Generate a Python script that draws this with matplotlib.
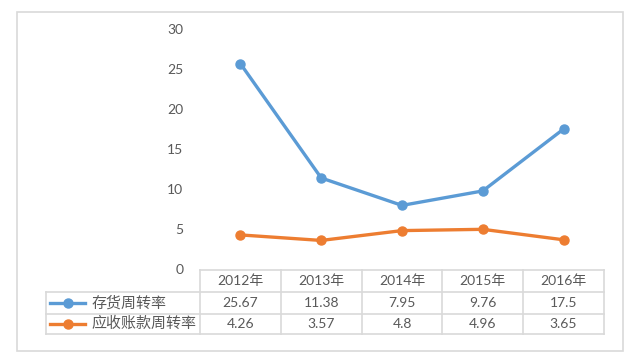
import numpy as np
import matplotlib.pyplot as plt
import matplotlib.transforms as mtransforms
from matplotlib.lines import Line2D
from matplotlib.patches import Rectangle

years = ['2012年', '2013年', '2014年', '2015年', '2016年']
series_names = ['存货周转率', '应收账款周转率']
inventory_turnover = [25.67, 11.38, 7.95, 9.76, 17.5]
receivable_turnover = [4.26, 3.57, 4.8, 4.96, 3.65]
cell_labels = [['25.67', '11.38', '7.95', '9.76', '17.5'],
               ['4.26', '3.57', '4.8', '4.96', '3.65']]
colors = ['#5B9BD5', '#ED7D31']

plt.rcParams['font.family'] = ['Lato', 'Noto Sans CJK SC', 'DejaVu Sans']
text_col = '#595959'
grid_col = '#D9D9D9'

W, H = 644, 364
fig = plt.figure(figsize=(W / 100, H / 100), dpi=100)

# outer chart border
fig.patches.append(Rectangle((17 / W, 1 - 351 / H), 606 / W, 339 / H,
                             transform=fig.transFigure, fill=False,
                             edgecolor=grid_col, linewidth=1.2))

ax = fig.add_axes([200 / W, 1 - 269 / H, 404 / W, 240 / H])
x = np.arange(len(years))
for vals, c in zip([inventory_turnover, receivable_turnover], colors):
    ax.plot(x, vals, color=c, linewidth=2.4, marker='o', markersize=6.5,
            solid_capstyle='round')

ax.set_xlim(-0.5, 4.5)
ax.set_ylim(0, 30)
ax.set_yticks(range(0, 31, 5))
ax.set_xticks([])
for s in ax.spines.values():
    s.set_visible(False)
ax.tick_params(axis='y', length=0, pad=12, labelsize=10, labelcolor=text_col)

# data table below the plot (x in data units, y in axes fraction)
tr = mtransforms.blended_transform_factory(ax.transData, ax.transAxes)
px = 1 / 240
rows_y = [-1 * px, -23 * px, -45 * px, -65 * px]
left = -0.5 - 154 / 80.8
lkw = dict(transform=tr, color=grid_col, linewidth=1.2, clip_on=False)

# header row (only over the category columns)
ax.add_line(Line2D([-0.5, 4.5], [rows_y[0]] * 2, **lkw))
for yy in rows_y[1:]:
    ax.add_line(Line2D([left, 4.5], [yy] * 2, **lkw))
for xv in np.arange(-0.5, 4.6, 1.0):
    ax.add_line(Line2D([xv, xv], [rows_y[0], rows_y[-1]], **lkw))
ax.add_line(Line2D([left, left], [rows_y[1], rows_y[-1]], **lkw))

for i, yr in enumerate(years):
    ax.text(i, (rows_y[0] + rows_y[1]) / 2, yr, transform=tr, ha='center',
            va='center', fontsize=10, color=text_col)

for r, (name, c) in enumerate(zip(series_names, colors)):
    yc = (rows_y[r + 1] + rows_y[r + 2]) / 2
    for i, lab in enumerate(cell_labels[r]):
        ax.text(i, yc, lab, transform=tr, ha='center', va='center',
                fontsize=10, color=text_col)
    ax.add_line(Line2D([left + 0.05, left + 0.48], [yc, yc], transform=tr,
                       color=c, linewidth=2.4, clip_on=False))
    ax.add_line(Line2D([left + 0.27], [yc], transform=tr, color=c,
                       marker='o', markersize=6.5, clip_on=False))
    ax.text(left + 0.56, yc, name, transform=tr, ha='left', va='center',
            fontsize=10.8, color=text_col)

fig.savefig('out.png', dpi=100)
